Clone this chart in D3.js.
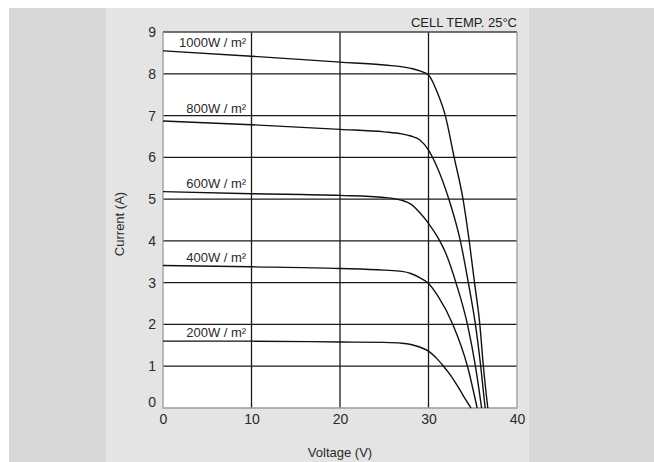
<!DOCTYPE html>
<html>
<head>
<meta charset="utf-8">
<script src="https://cdn.jsdelivr.net/npm/d3@7"></script>
<style>
  html, body { margin: 0; padding: 0; background: #fff; }
  svg { display: block; font-family: "Liberation Sans", Arial, Helvetica, sans-serif; }
</style>
</head>
<body>
<div id="chart"></div>
<script>
// I-V curves of a PV module at different irradiance levels
const irradianceLabels = ["1000W / m²", "800W / m²", "600W / m²", "400W / m²", "200W / m²"];

const curve1000 = [[0, 8.55], [10, 8.42], [20, 8.28], [25, 8.21], [28, 8.13], [29, 8.07], [30, 7.97], [31, 7.55], [31.9, 7.0], [32.9, 6.0], [33.9, 5.0], [34.6, 4.0], [35.2, 3.0], [35.8, 2.0], [36.2, 1.0], [36.7, 0]];
const curve800 = [[0, 6.87], [10, 6.78], [20, 6.67], [25, 6.61], [27, 6.56], [28, 6.51], [29, 6.42], [30, 6.17], [31, 5.75], [32.3, 5.0], [33.6, 4.0], [34.5, 3.0], [35.3, 2.0], [35.9, 1.0], [36.4, 0]];
const curve600 = [[0, 5.18], [10, 5.13], [20, 5.09], [25, 5.04], [27, 4.97], [28, 4.88], [29, 4.68], [30, 4.42], [31, 4.10], [32, 3.68], [33.1, 3.0], [34.4, 2.0], [35.3, 1.0], [36.0, 0]];
const curve400 = [[0, 3.41], [10, 3.38], [20, 3.34], [25, 3.30], [27, 3.27], [28, 3.22], [29, 3.12], [30, 2.98], [31, 2.7], [32.75, 2.0], [34.4, 1.0], [35.5, 0]];
const curve200 = [[0, 1.6], [10, 1.6], [20, 1.58], [25, 1.57], [27, 1.55], [28, 1.52], [29, 1.46], [30, 1.36], [31, 1.17], [31.7, 1.0], [32.5, 0.78], [33.5, 0.45], [34.2, 0.2], [34.8, 0]];

const xTicks = [0, 10, 20, 30, 40];
const yTicks = [0, 1, 2, 3, 4, 5, 6, 7, 8, 9];

const curves = [curve1000, curve800, curve600, curve400, curve200];

const width = 654;
const height = 462;
const plotLeft = 163, plotRight = 517, plotTop = 32, plotBottom = 408;

const svg = d3.select("#chart")
  .append("svg")
  .attr("width", width)
  .attr("height", height);

// backgrounds
svg.append("rect").attr("x", 9).attr("y", 8).attr("width", width - 9).attr("height", height - 8).attr("fill", "#d8d8d8");
svg.append("rect").attr("x", 106).attr("y", 8).attr("width", 423).attr("height", height - 8).attr("fill", "#e4e4e4");
svg.append("rect").attr("x", plotLeft).attr("y", plotTop).attr("width", plotRight - plotLeft).attr("height", plotBottom - plotTop).attr("fill", "#fff");

const x = d3.scaleLinear().domain([0, 40]).range([plotLeft, plotRight]);
const y = d3.scaleLinear().domain([0, 9]).range([plotBottom, plotTop]);

// grid lines
const grid = svg.append("g");
grid.selectAll(".vgrid")
  .data(xTicks.filter(d => d > 0 && d < 40))
  .enter().append("line")
  .attr("x1", d => x(d)).attr("x2", d => x(d))
  .attr("y1", plotTop).attr("y2", plotBottom)
  .attr("stroke", "#1a1a1a").attr("stroke-width", 1.3);
grid.selectAll(".hgrid")
  .data(yTicks.filter(d => d > 0))
  .enter().append("line")
  .attr("x1", plotLeft).attr("x2", plotRight)
  .attr("y1", d => y(d)).attr("y2", d => y(d))
  .attr("stroke", d => d === 9 ? "#444" : "#1a1a1a").attr("stroke-width", 1.3);

// frame (left, right, bottom)
svg.append("path")
  .attr("d", `M${plotLeft},${plotTop}V${plotBottom}H${plotRight}V${plotTop}`)
  .attr("fill", "none").attr("stroke", "#9a9a9a").attr("stroke-width", 1.3);

// axes
const xAxis = svg.append("g")
  .attr("transform", `translate(0,${plotBottom})`)
  .call(d3.axisBottom(x).tickValues(xTicks).tickSize(0).tickPadding(6));
const yAxis = svg.append("g")
  .attr("transform", `translate(${plotLeft},0)`)
  .call(d3.axisLeft(y).tickValues(yTicks).tickSize(0).tickPadding(7));
[xAxis, yAxis].forEach(a => {
  a.select(".domain").remove();
  a.attr("font-family", null).attr("font-size", null);
  a.selectAll("text").style("font-size", "14px").style("fill", "#2a2a2a");
});
yAxis.selectAll(".tick").filter(d => d === 0).select("text").attr("dy", "-0.1em");

// curves
const line = d3.line()
  .x(d => x(d[0]))
  .y(d => y(d[1]))
  .curve(d3.curveMonotoneX);

svg.append("g").selectAll("path")
  .data(curves)
  .enter().append("path")
  .attr("d", line)
  .attr("fill", "none")
  .attr("stroke", "#111")
  .attr("stroke-width", 1.4);

// irradiance labels - sit just above the curve, lifted clear of a grid line if they'd touch it
function labelY(i) {
  let ly = y(curves[i][0][1]) - 4;
  yTicks.forEach(t => {
    const gy = y(t);
    if (ly > gy - 3 && ly < gy + 4) ly = gy - 3;
  });
  return ly;
}

svg.append("g").selectAll("text")
  .data(irradianceLabels)
  .enter().append("text")
  .attr("x", x(9.4))
  .attr("y", (d, i) => labelY(i))
  .attr("text-anchor", "end")
  .style("font-size", "13px")
  .style("fill", "#2a2a2a")
  .text(d => d);

// titles
svg.append("text")
  .attr("x", plotRight)
  .attr("y", 27)
  .attr("text-anchor", "end")
  .style("font-size", "13px")
  .style("fill", "#222")
  .text("CELL TEMP. 25°C");

svg.append("text")
  .attr("x", (plotLeft + plotRight) / 2)
  .attr("y", 457)
  .attr("text-anchor", "middle")
  .style("font-size", "13px")
  .style("fill", "#2a2a2a")
  .text("Voltage (V)");

svg.append("text")
  .attr("transform", `translate(124,${(plotTop + plotBottom) / 2 + 4}) rotate(-90)`)
  .attr("text-anchor", "middle")
  .style("font-size", "13px")
  .style("fill", "#2a2a2a")
  .text("Current  (A)");
</script>
</body>
</html>
